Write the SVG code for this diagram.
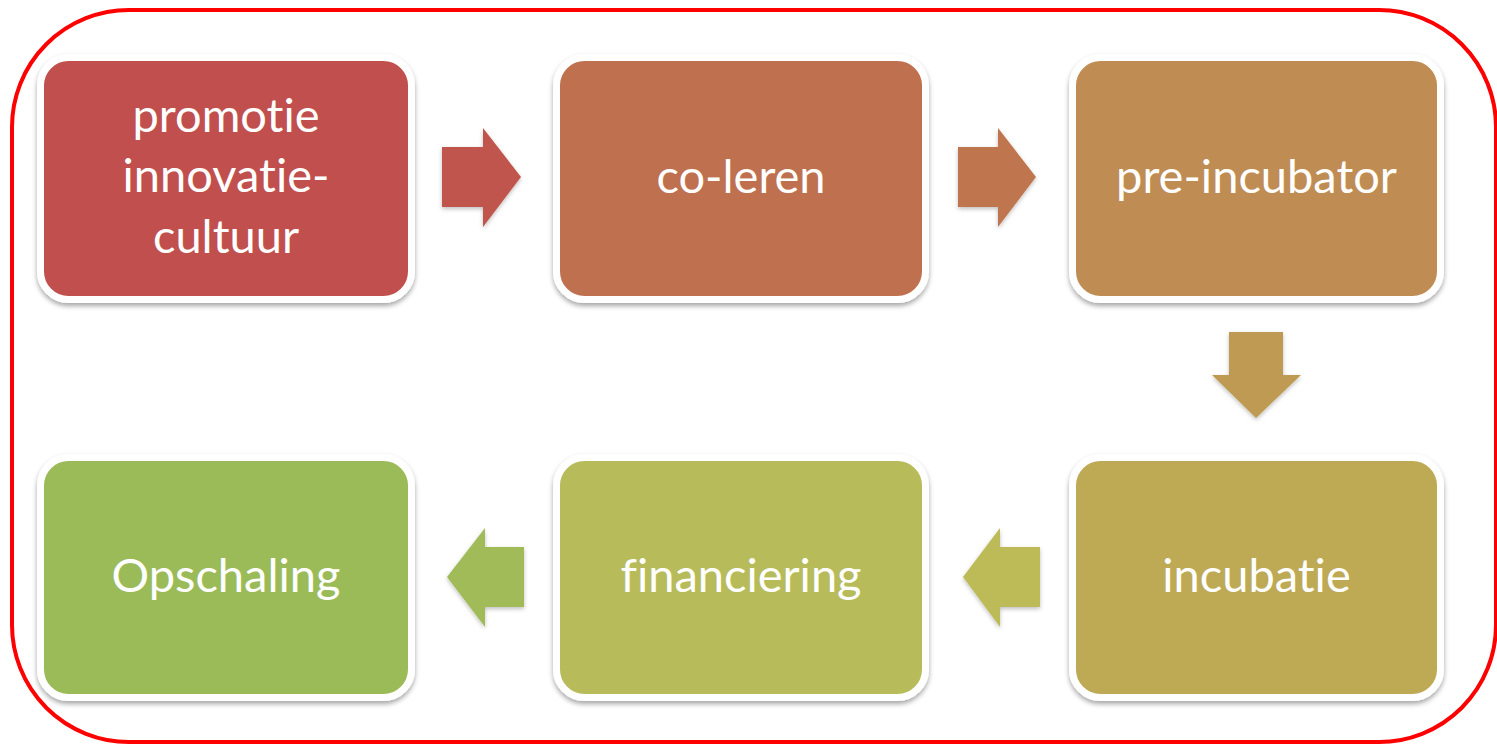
<svg xmlns="http://www.w3.org/2000/svg" width="1497" height="745" viewBox="0 0 1497 745">
<defs>
<filter id="sh" x="-10%" y="-10%" width="120%" height="125%">
<feDropShadow dx="0" dy="3" stdDeviation="2.5" flood-color="#000" flood-opacity="0.35"/>
</filter>
<filter id="ash" x="-10%" y="-10%" width="130%" height="130%">
<feDropShadow dx="0" dy="2" stdDeviation="2" flood-color="#000" flood-opacity="0.25"/>
</filter>
</defs>
<style>
.box{stroke:#fff;stroke-width:7;filter:url(#sh)}
.lbl{font-family:Lato,"Open Sans","Noto Sans",sans-serif;font-size:47px;fill:#fff;text-anchor:middle;font-variant-ligatures:none;font-feature-settings:"liga" 0,"clig" 0,"dlig" 0}
.arr{filter:url(#ash)}
</style>
<rect width="1497" height="745" fill="#fff"/>
<rect x="12" y="10" width="1484" height="732" rx="117" ry="117" fill="none" stroke="#ff0000" stroke-width="4"/>

<g id="connectors">
<polygon class="arr" fill="#C0554E" points="442,147 483,147 483,128 521,177 483,227 483,207 442,207"/>
<polygon class="arr" fill="#BF764F" points="958,147 998,147 998,128 1036,177 998,227 998,207 958,207"/>
<polygon class="arr" fill="#BE9A52" points="1229,332 1283,332 1283,375 1301,375 1256,418 1212,375 1229,375"/>
<polygon class="arr" fill="#BDBA58" points="1040,547 1000,547 1000,528 963,577 1000,627 1000,607 1040,607"/>
<polygon class="arr" fill="#A0BB59" points="524,547 485,547 485,528 447,577 485,627 485,607 524,607"/>
</g>

<g id="node-promotie">
<rect class="box" x="40.5" y="57.5" width="371" height="242" rx="28" fill="#C0504D"/>
<text class="lbl" x="226" y="132">promotie</text>
<text class="lbl" x="226" y="192">innovatie-</text>
<text class="lbl" x="226" y="253">cultuur</text>
</g>
<g id="node-coleren">
<rect class="box" x="556.5" y="57.5" width="369" height="242" rx="28" fill="#BF6F4F"/>
<text class="lbl" x="741" y="193">co-leren</text>
</g>
<g id="node-preincubator">
<rect class="box" x="1072.5" y="57.5" width="368" height="242" rx="28" fill="#BF8D52"/>
<text class="lbl" x="1256.5" y="193">pre-incubator</text>
</g>
<g id="node-incubatie">
<rect class="box" x="1072.5" y="457.5" width="368" height="240" rx="28" fill="#BEA955"/>
<text class="lbl" x="1256.5" y="592">incubatie</text>
</g>
<g id="node-financiering">
<rect class="box" x="556.5" y="457.5" width="369" height="240" rx="28" fill="#B7BB5A"/>
<text class="lbl" x="741" y="592">financiering</text>
</g>
<g id="node-opschaling">
<rect class="box" x="40.5" y="457.5" width="371" height="240" rx="28" fill="#9BBB59"/>
<text class="lbl" x="226" y="592">Opschaling</text>
</g>
</svg>
